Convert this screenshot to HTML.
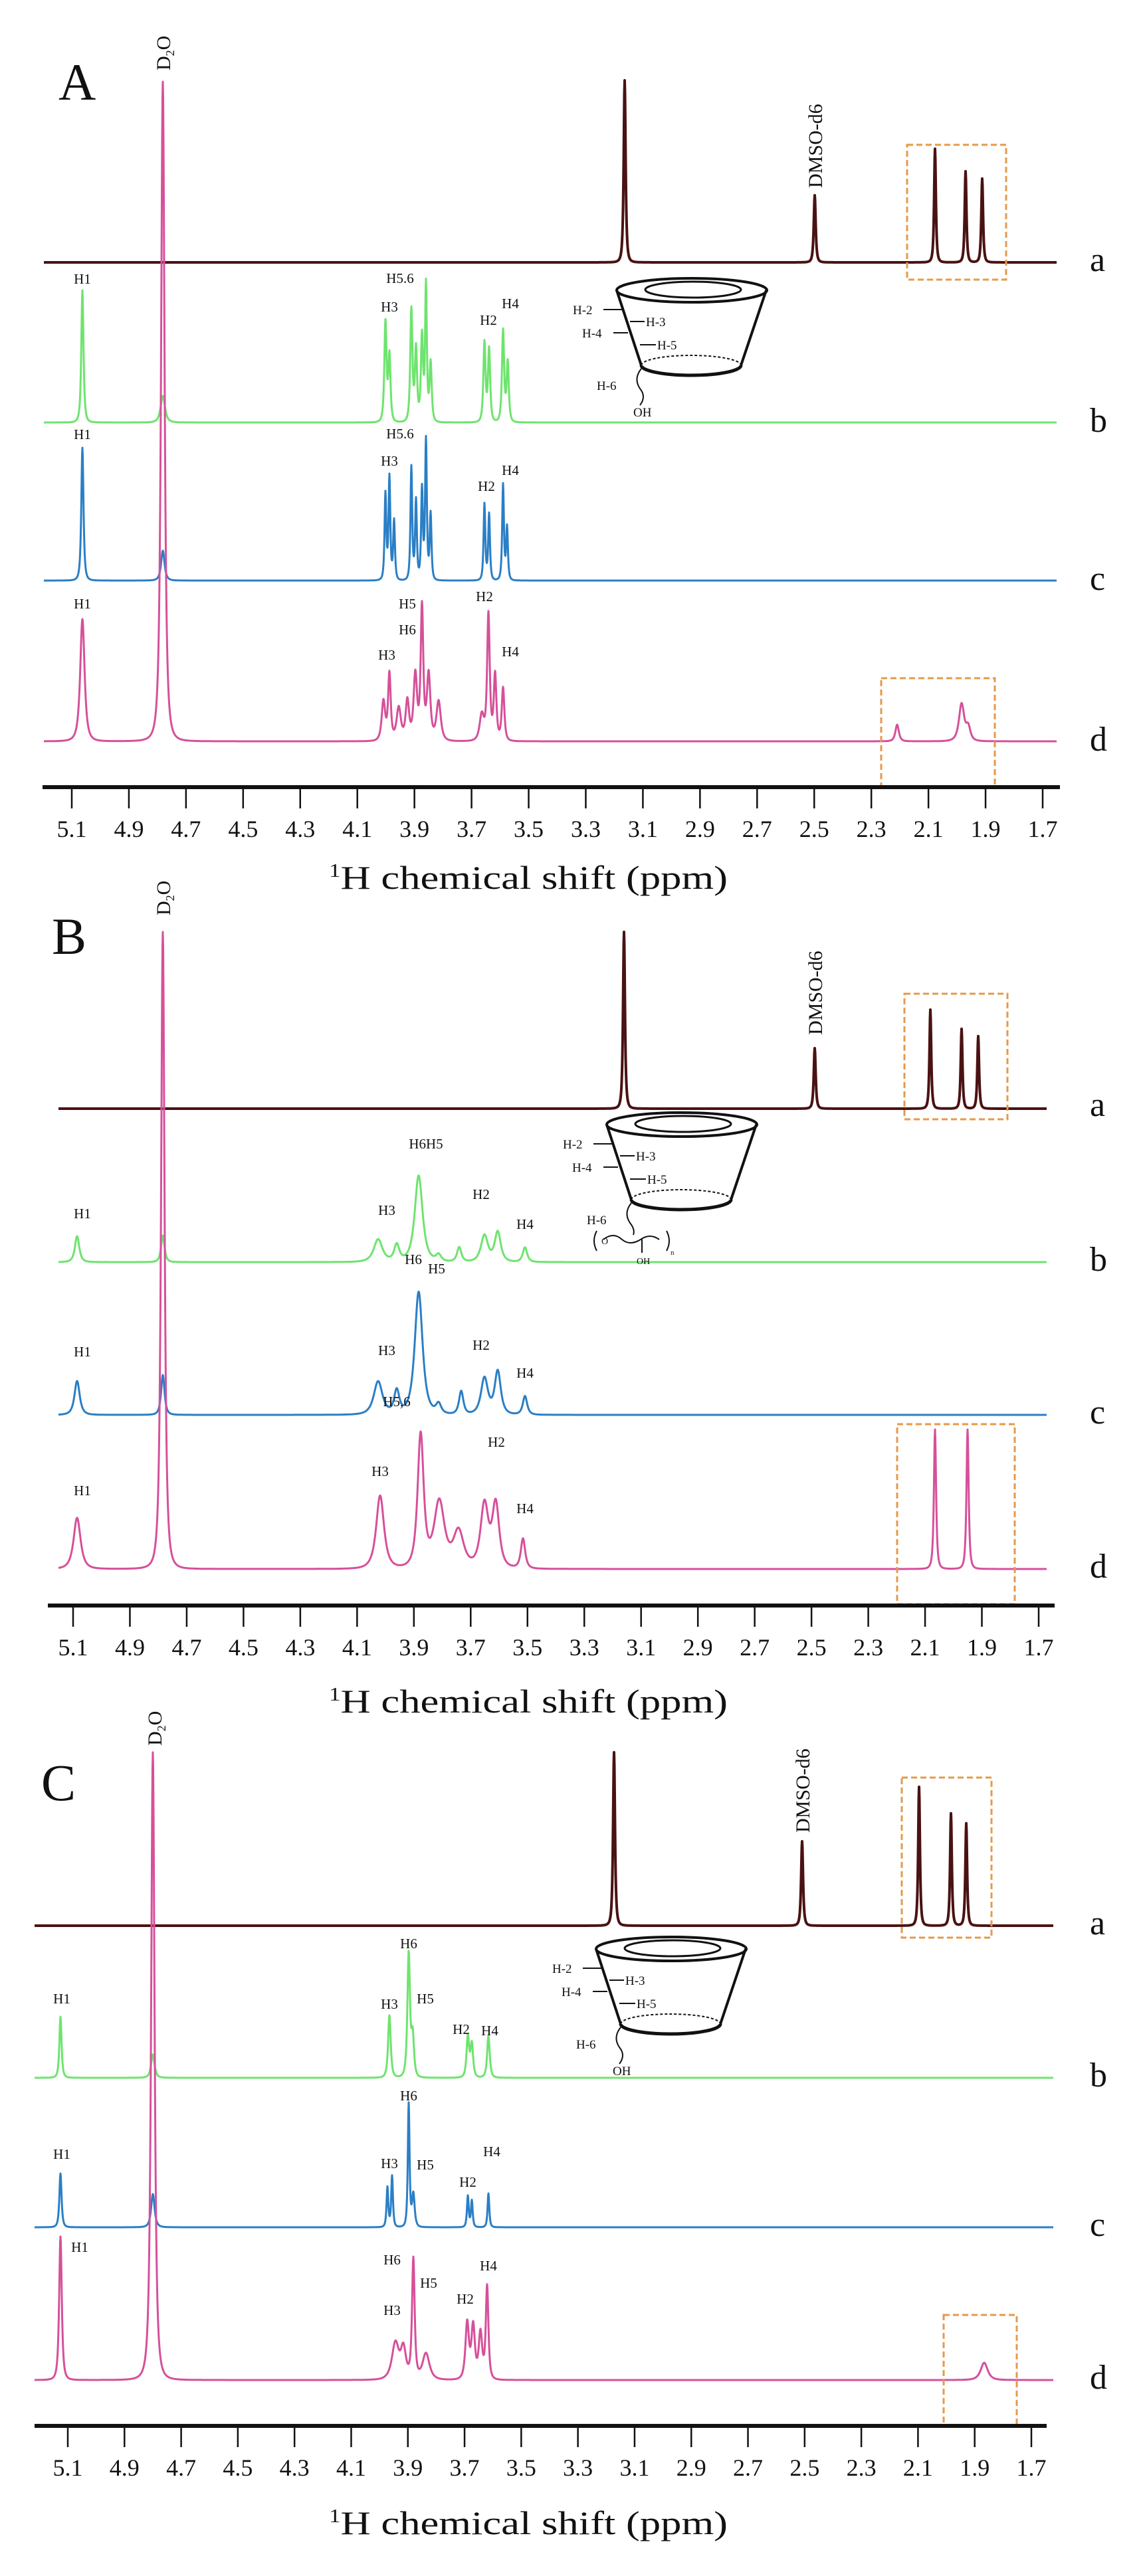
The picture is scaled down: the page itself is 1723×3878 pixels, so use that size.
<!DOCTYPE html>
<html><head><meta charset="utf-8">
<style>
html,body{margin:0;padding:0;background:#fff;}
svg{display:block;}
text{font-family:"Liberation Serif",serif;fill:#111;}
.pl{font-size:21px;}
.tk{font-size:36px;}
.tt{font-size:50px;}
.big{font-size:78px;}
.ab{font-size:52px;}
.rot{font-size:30px;}
.cl{font-size:19px;}
</style></head>
<body>
<svg id="s" width="1723" height="3878" viewBox="0 0 1723 3878" xmlns="http://www.w3.org/2000/svg">
<g id="spec"></g>
<g fill="none" stroke="#e59a4a" stroke-width="3" stroke-dasharray="9 5">
<rect x="1365" y="218" width="149" height="203"/>
<rect x="1326" y="1021" width="171" height="164"/>
<rect x="1361" y="1496" width="155" height="189"/>
<rect x="1350" y="2144" width="177" height="271"/>
<rect x="1357" y="2676" width="135" height="241"/>
<rect x="1420" y="3485" width="110" height="167"/>
</g>
<g id="axes"></g>
<defs>
<g id="cone" fill="none" stroke="#111">
<ellipse cx="113" cy="0" rx="113" ry="18" stroke-width="4"/>
<ellipse cx="115" cy="-1" rx="72" ry="12" stroke-width="3"/>
<line x1="0" y1="0" x2="37" y2="113" stroke-width="4"/>
<line x1="225" y1="0" x2="187" y2="113" stroke-width="4"/>
<path d="M37 113 A75 15 0 0 0 187 113" stroke-width="5"/>
<path d="M37 113 A75 15 0 0 1 187 113" stroke-width="2" stroke-dasharray="4 3"/>
<line x1="-20" y1="29" x2="10" y2="29" stroke-width="2"/>
<line x1="20" y1="47" x2="42" y2="47" stroke-width="2"/>
<line x1="-5" y1="64" x2="17" y2="64" stroke-width="2"/>
<line x1="35" y1="82" x2="59" y2="82" stroke-width="2"/>
</g>
</defs>
<g class="cl">
<g transform="translate(928,437)"><use href="#cone"/>
<text x="-66" y="36">H-2</text><text x="44" y="54">H-3</text><text x="-52" y="71">H-4</text><text x="61" y="89">H-5</text><text x="-30" y="150">H-6</text>
<path d="M37 118 q-12 15 -2 30 q10 12 0 25" fill="none" stroke="#111" stroke-width="2"/><text x="25" y="190">OH</text></g>
<g transform="translate(913,1693)"><use href="#cone"/>
<text x="-66" y="36">H-2</text><text x="44" y="54">H-3</text><text x="-52" y="71">H-4</text><text x="61" y="89">H-5</text><text x="-30" y="150">H-6</text>
<path d="M37 118 q-12 15 -2 30 q8 10 5 18" fill="none" stroke="#111" stroke-width="2"/>
<path d="M-15 160 q-8 15 0 30 M-5 173 q15 -12 28 0 q12 10 28 0 q14 -10 28 0 M90 160 q8 15 0 30 M53 173 v20" fill="none" stroke="#111" stroke-width="2"/>
<text x="-8" y="180" font-size="14">O</text><text x="96" y="196" font-size="11">n</text><text x="45" y="210" font-size="14">OH</text></g>
<g transform="translate(897,2934)"><use href="#cone"/>
<text x="-66" y="36">H-2</text><text x="44" y="54">H-3</text><text x="-52" y="71">H-4</text><text x="61" y="89">H-5</text><text x="-30" y="150">H-6</text>
<path d="M37 118 q-12 15 -2 30 q10 12 0 25" fill="none" stroke="#111" stroke-width="2"/><text x="25" y="190">OH</text></g>
</g>
<text class="big" x="88" y="150">A</text>
<text class="big" x="78" y="1436">B</text>
<text class="big" x="62" y="2710">C</text>
<text class="rot" transform="translate(256,106) rotate(-90)">D<tspan font-size="18" dy="6">2</tspan><tspan dy="-6">O</tspan></text>
<text class="rot" transform="translate(1237,283) rotate(-90)">DMSO-d6</text>
<text class="rot" transform="translate(256,1378) rotate(-90)">D<tspan font-size="18" dy="6">2</tspan><tspan dy="-6">O</tspan></text>
<text class="rot" transform="translate(1237,1558) rotate(-90)">DMSO-d6</text>
<text class="rot" transform="translate(243,2628) rotate(-90)">D<tspan font-size="18" dy="6">2</tspan><tspan dy="-6">O</tspan></text>
<text class="rot" transform="translate(1218,2759) rotate(-90)">DMSO-d6</text>
<g class="ab">
<text x="1640" y="408">a</text><text x="1640" y="650">b</text><text x="1640" y="888">c</text><text x="1640" y="1130">d</text>
<text x="1640" y="1680">a</text><text x="1640" y="1913">b</text><text x="1640" y="2143">c</text><text x="1640" y="2375">d</text>
<text x="1640" y="2912">a</text><text x="1640" y="3141">b</text><text x="1640" y="3366">c</text><text x="1640" y="3596">d</text>
</g>
<g class="pl" text-anchor="middle">
<text x="124" y="427">H1</text><text x="602" y="426">H5.6</text><text x="586" y="469">H3</text><text x="735" y="489">H2</text><text x="768" y="464">H4</text>
<text x="124" y="661">H1</text><text x="602" y="660">H5.6</text><text x="586" y="701">H3</text><text x="732" y="739">H2</text><text x="768" y="715">H4</text>
<text x="124" y="916">H1</text><text x="613" y="916">H5</text><text x="613" y="955">H6</text><text x="582" y="993">H3</text><text x="729" y="905">H2</text><text x="768" y="988">H4</text>
<text x="124" y="1834">H1</text><text x="582" y="1829">H3</text><text x="641" y="1729">H6H5</text><text x="724" y="1805">H2</text><text x="790" y="1850">H4</text>
<text x="124" y="2042">H1</text><text x="582" y="2040">H3</text><text x="622" y="1903">H6</text><text x="657" y="1917">H5</text><text x="724" y="2032">H2</text><text x="790" y="2074">H4</text>
<text x="124" y="2251">H1</text><text x="572" y="2222">H3</text><text x="597" y="2117">H5,6</text><text x="747" y="2178">H2</text><text x="790" y="2278">H4</text>
<text x="93" y="3016">H1</text><text x="615" y="2933">H6</text><text x="586" y="3024">H3</text><text x="640" y="3016">H5</text><text x="694" y="3062">H2</text><text x="737" y="3064">H4</text>
<text x="93" y="3250">H1</text><text x="615" y="3162">H6</text><text x="586" y="3264">H3</text><text x="640" y="3266">H5</text><text x="704" y="3292">H2</text><text x="740" y="3246">H4</text>
<text x="120" y="3390">H1</text><text x="590" y="3409">H6</text><text x="645" y="3444">H5</text><text x="590" y="3485">H3</text><text x="700" y="3468">H2</text><text x="735" y="3418">H4</text>
</g>
<text class="tt" x="795" y="1338" text-anchor="middle" textLength="600" lengthAdjust="spacingAndGlyphs"><tspan font-size="28" dy="-18">1</tspan><tspan dy="18">H chemical shift (ppm)</tspan></text>
<text class="tt" x="795" y="2578" text-anchor="middle" textLength="600" lengthAdjust="spacingAndGlyphs"><tspan font-size="28" dy="-18">1</tspan><tspan dy="18">H chemical shift (ppm)</tspan></text>
<text class="tt" x="795" y="3815" text-anchor="middle" textLength="600" lengthAdjust="spacingAndGlyphs"><tspan font-size="28" dy="-18">1</tspan><tspan dy="18">H chemical shift (ppm)</tspan></text>
</svg>
<script>
(function(){
var NS="http://www.w3.org/2000/svg";
var spec=document.getElementById("spec"), axes=document.getElementById("axes");
function el(p,t,a){var e=document.createElementNS(NS,t);for(var k in a)e.setAttribute(k,a[k]);p.appendChild(e);return e;}
function trace(base,x0,x1,peaks,color,w){
  var d="";
  for(var x=x0;x<=x1;x+=0.5){
    var s=0;for(var i=0;i<peaks.length;i++){var p=peaks[i];var u=(x-p[0])/p[2];s+=p[1]/Math.pow(1+u*u,1.5);}
    d+=(x==x0?"M":"L")+x.toFixed(1)+" "+(base-s).toFixed(1);
  }
  el(spec,"path",{d:d,fill:"none",stroke:color,"stroke-width":w,"stroke-linejoin":"round"});
}
var DK="#4a1212",GR="#6ee46e",BL="#2a7fc6",PK="#d6509a";
trace(395,66,1590,[[940,274,2.2],[1226,101,2.2],[1407,171,2],[1453,137,2],[1478,126,2]],DK,4);
trace(636,66,1590,[[124,199,2.5],[245,40,5],[580,150,2.5],[586,100,2.5],[619,170,2.5],[626,110,2.5],[635,130,2.5],[641,205,2],[648,90,2.5],[729,120,2.5],[736,110,2.5],[757,138,2.5],[764,90,2.5]],GR,3);
trace(874,66,1590,[[124,200,2.5],[245,45,4],[580,130,2],[586,155,2],[593,90,2],[619,171,2],[626,120,2],[635,137,2],[641,211,2],[648,100,2],[729,115,2],[736,100,2],[757,144,2],[763,80,2]],BL,3);
trace(1116,66,1590,[[124,184,5],[245,993,4],[577,60,4],[586,100,3],[600,50,5],[613,60,4],[625,100,4],[635,200,3],[645,100,4],[660,60,5],[725,40,5],[735,190,3],[745,100,3],[757,80,3],[1350,25,4],[1447,56,6],[1457,20,5]],PK,3);
trace(1669,88,1575,[[939,266,2.2],[1226,91,2.2],[1400,149,2],[1447,120,2],[1472,109,2]],DK,4);
trace(1900,88,1575,[[116,39,5],[245,40,4],[569,34,10],[597,25,6],[630,130,9],[660,10,6],[691,22,5],[729,40,8],[749,45,7],[790,22,5]],GR,3);
trace(2130,88,1575,[[116,51,6],[245,60,4],[569,50,10],[597,35,6],[630,185,9],[660,15,6],[694,35,5],[729,55,8],[749,65,7],[790,28,5]],BL,3);
trace(2362,88,1575,[[116,77,8],[245,959,4],[572,110,9],[633,200,7],[661,100,12],[690,55,12],[729,95,9],[746,95,8],[787,45,5],[1407,210,2.5],[1456,210,2.5]],PK,3);
trace(2899,52,1585,[[924,261,2.2],[1207,127,2.2],[1383,209,2],[1431,169,2],[1454,154,2]],DK,4);
trace(3128,52,1585,[[91,92,2.5],[230,35,4],[586,94,3],[615,186,3],[621,60,3],[704,61,3],[710,50,3],[735,63,3]],GR,3);
trace(3353,52,1585,[[91,81,2.5],[230,50,4],[583,60,2],[590,77,2],[615,185,2],[622,50,3],[704,47,2],[710,40,2],[735,51,2]],BL,3);
trace(3583,52,1585,[[91,216,3],[230,945,4],[595,55,8],[607,45,6],[622,180,3],[641,40,8],[703,85,4],[712,80,4],[723,70,4],[733,140,3],[1481,26,8]],PK,3);
function axis(y,xa,xb,x51,x17){
  el(axes,"line",{x1:xa,y1:y,x2:xb,y2:y,stroke:"#111","stroke-width":6});
  for(var i=0;i<=17;i++){
    var v=5.1-0.2*i, x=x51+(x17-x51)*(0.2*i)/3.4;
    el(axes,"line",{x1:x,y1:y,x2:x,y2:y+32,stroke:"#111","stroke-width":2.5});
    var t=el(axes,"text",{x:x,y:y+75,"text-anchor":"middle","class":"tk"});
    t.textContent=v.toFixed(1);
  }
}
axis(1185,64,1595,108,1569);
axis(2417,72,1587,110,1563);
axis(3652,52,1575,102,1552);
})();
</script>
</body></html>
